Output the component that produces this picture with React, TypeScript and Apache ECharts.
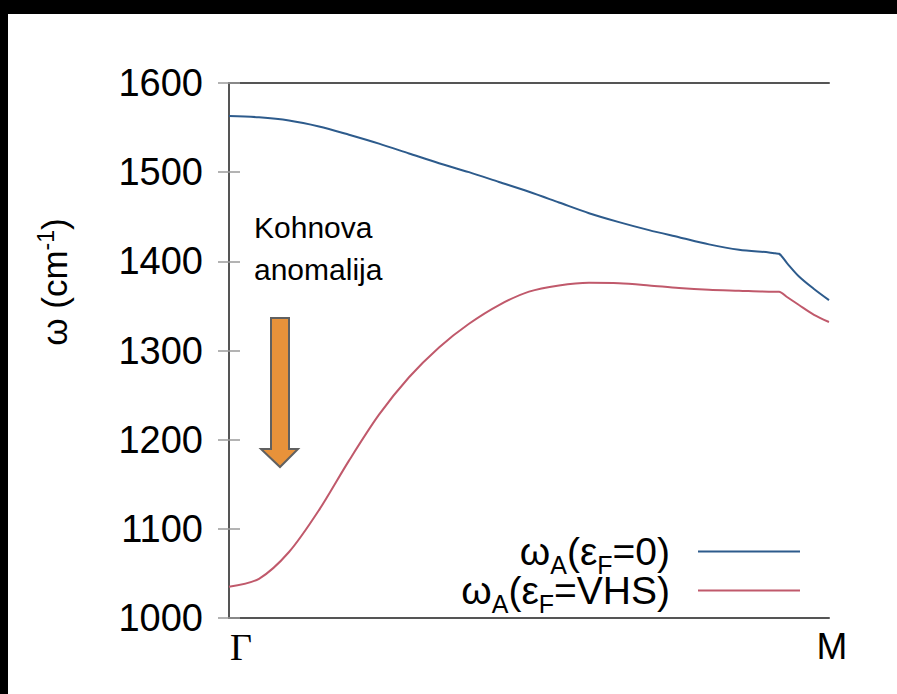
import React, { useEffect, useRef } from 'react';
import * as echarts from 'echarts';

// path coordinate from Γ (0) to M (1)
const kPath = [0, 0.05, 0.1, 0.15, 0.2, 0.25, 0.3, 0.35, 0.4, 0.45, 0.5, 0.55, 0.6, 0.65, 0.7, 0.75, 0.8, 0.85, 0.9, 0.91, 0.9167, 0.93, 0.95, 0.975, 1];
const omegaEF0 = [1563, 1561.5, 1558, 1551.3, 1542, 1532, 1521, 1510, 1500, 1489, 1478, 1466, 1454, 1444, 1435, 1427, 1419, 1413, 1410, 1409, 1408.5, 1398, 1383, 1369, 1356.5];
const omegaVHS = [1035, 1044, 1074, 1121, 1176.5, 1228, 1270, 1303.5, 1330, 1351, 1366, 1373, 1376, 1375.5, 1373, 1370, 1368, 1367, 1366, 1366, 1366, 1360, 1351, 1340, 1332];
const seriesNames = ['ωA(εF=0)', 'ωA(εF=VHS)'];
const xTickLabels = ['Γ', 'M'];
const yTicks = [1000, 1100, 1200, 1300, 1400, 1500, 1600];

const SANS = '"Liberation Sans", Arial, Helvetica, sans-serif';
const SERIF = '"Liberation Serif", "Times New Roman", serif';

export default function App() {
  const ref = useRef<HTMLDivElement>(null);
  useEffect(() => {
    document.body.style.margin = '0';
    document.body.style.background = '#fff';
    const el = ref.current!;
    const chart = echarts.init(el, null, { renderer: 'svg' });
    const zip = (ys: number[]) => kPath.map((k, i) => [k, ys[i]]);
    const legendRich = {
      n: { fontSize: 39, fontFamily: SANS, color: '#000', lineHeight: 40 },
      s: { fontSize: 25, fontFamily: SANS, color: '#000', lineHeight: 12, padding: [27, 0, 1, 0] },
      gap: { width: 23 },
    };
    const option: any = {
      animation: false,
      backgroundColor: '#fff',
      grid: { left: 229, right: 68, top: 83, bottom: 76, containLabel: false },
      xAxis: [
        {
          type: 'value', min: 0, max: 1, interval: 1,
          axisLine: { show: true, onZero: false, lineStyle: { color: '#555', width: 2 } },
          axisTick: { show: false },
          splitLine: { show: false },
          axisLabel: {
            margin: 10,
            formatter: (v: number) => (v === 0 ? `{g|${xTickLabels[0]}}` : `{m|${xTickLabels[1]}}`),
            rich: {
              g: { fontSize: 38, fontFamily: SERIF, color: '#000', padding: [0, 0, 0, 24] },
              m: { fontSize: 37, fontFamily: SANS, color: '#000', padding: [0, 0, 0, 6] },
            },
          },
        },
        {
          type: 'value', position: 'top', min: 0, max: 1, interval: 1,
          axisLine: { show: true, onZero: false, lineStyle: { color: '#555', width: 2 } },
          axisTick: { show: false }, axisLabel: { show: false }, splitLine: { show: false },
        },
      ],
      yAxis: [
        {
          type: 'value', min: yTicks[0], max: yTicks[yTicks.length - 1], interval: 100,
          axisLine: { show: true, lineStyle: { color: '#555', width: 2 } },
          axisTick: { show: true, inside: true, length: 11, lineStyle: { color: '#9a9a9a', width: 1.5 } },
          splitLine: { show: false },
          axisLabel: { fontSize: 38, fontFamily: SANS, color: '#000', margin: 26, formatter: (v: number) => String(v) },
        },
        {
          type: 'value', position: 'right', min: yTicks[0], max: yTicks[yTicks.length - 1], interval: 100,
          axisLine: { show: true, lineStyle: { color: '#555', width: 2 } },
          axisTick: { show: true, inside: true, length: 11, lineStyle: { color: '#9a9a9a', width: 1.5 } },
          axisLabel: { show: false }, splitLine: { show: false },
        },
      ],
      legend: {
        orient: 'vertical', right: 92, top: 520, align: 'right',
        icon: 'rect', itemWidth: 102, itemHeight: 2, itemGap: -14,
        selectedMode: false,
        data: seriesNames,
        formatter: (name: string) =>
          name === seriesNames[0]
            ? '{n|ω}{s|A}{n|(ε}{s|F}{n|=0)}{gap|}'
            : '{n|ω}{s|A}{n|(ε}{s|F}{n|=VHS)}{gap|}',
        textStyle: { rich: legendRich },
      },
      series: [
        {
          name: seriesNames[0], type: 'line', data: zip(omegaEF0), symbol: 'none', smooth: 0.3,
          lineStyle: { color: '#2d5b8c', width: 2 }, itemStyle: { color: '#2d5b8c' },
        },
        {
          name: seriesNames[1], type: 'line', data: zip(omegaVHS), symbol: 'none', smooth: 0.3,
          lineStyle: { color: '#c0596b', width: 2 }, itemStyle: { color: '#c0596b' },
        },
      ],
      graphic: [
        { type: 'rect', shape: { x: 0, y: 0, width: 897, height: 14 }, style: { fill: '#000' } },
        { type: 'rect', shape: { x: 0, y: 0, width: 8, height: 694 }, style: { fill: '#000' } },
        {
          type: 'text', x: 54, y: 282, rotation: Math.PI / 2,
          style: {
            text: '{n|ω (cm}{sup|-1}{n|)}',
            align: 'center', verticalAlign: 'middle',
            rich: {
              n: { fontSize: 35, fontFamily: SANS, fill: '#000', lineHeight: 40 },
              sup: { fontSize: 23, fontFamily: SANS, fill: '#000', lineHeight: 8, verticalAlign: 'top' },
            },
          },
        },
        {
          type: 'text', x: 254, y: 206,
          style: {
            text: 'Kohnova\nanomalija', fontSize: 30, fontFamily: SANS, fill: '#000',
            lineHeight: 42, align: 'left', verticalAlign: 'top',
          },
        },
        {
          type: 'polygon',
          shape: { points: [[271, 318], [289, 318], [289, 449], [298, 449], [280, 467], [261, 449], [271, 449]] },
          style: { fill: '#e8923a', stroke: '#606060', lineWidth: 2 },
        },
      ],
    };
    chart.setOption(option);
    return () => chart.dispose();
  }, []);
  return (
    <div style={{ position: 'fixed', left: 0, top: 0, right: 0, bottom: 0, minWidth: 897, minHeight: 694, background: '#fff' }}>
      <div ref={ref} style={{ width: 897, height: 694 }} />
    </div>
  );
}
